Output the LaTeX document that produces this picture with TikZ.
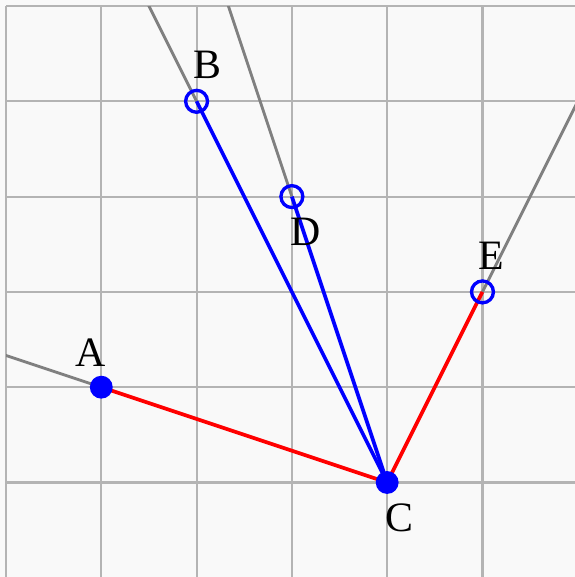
\documentclass[tikz,border=0pt]{standalone}
\usepackage{fontspec}
\setmainfont{Liberation Serif}
\usetikzlibrary{calc}
\definecolor{bgc}{HTML}{F9F9F9}
\definecolor{gridc}{HTML}{B4B4B4}
\definecolor{rayc}{HTML}{808080}
\definecolor{ptblue}{HTML}{0000FF}
\definecolor{segred}{HTML}{FF0000}
\begin{document}
\begin{tikzpicture}[x=1cm,y=1cm,
  gridline/.style={draw=gridc, line width=0.65pt},
  ray/.style={draw=rayc, line width=0.85pt},
  bluseg/.style={draw=ptblue, line width=1.1pt},
  redseg/.style={draw=segred, line width=1.1pt},
  openpt/.style={circle, draw=ptblue, line width=1pt, fill=none, minimum size=0.23cm, inner sep=0pt},
  fullpt/.style={circle, fill=ptblue, draw=none, minimum size=0.24cm, inner sep=0pt},
  lbl/.style={font=\fontsize{12.5}{13}\selectfont, inner sep=0pt}]
\useasboundingbox (-0.063,0.063) rectangle (5.971,-5.992);
\fill[bgc] (-0.063,0.063) rectangle (5.971,-5.992);
\draw[gridline] (0,-5.992) grid[step=1] (5.971,0);
\draw[gridline] (0,0) -- (5.971,0);
\draw[gridline] (0,0) -- (0,-5.992);
\coordinate (A) at (1,-4);
\coordinate (B) at (2,-1);
\coordinate (C) at (4,-5);
\coordinate (D) at (3,-2);
\coordinate (E) at (5,-3);
\begin{scope}
\clip (0,0) rectangle (5.971,-5.992);
\draw[ray] (A) -- ($(C)!2!(A)$);
\draw[ray] (B) -- ($(C)!2!(B)$);
\draw[ray] (D) -- ($(C)!2!(D)$);
\draw[ray] (E) -- ($(C)!2!(E)$);
\end{scope}
\draw[redseg] (C) -- (A);
\draw[bluseg] (C) -- (B);
\draw[bluseg] (C) -- (D);
\draw[redseg] (C) -- (E);
\node[fullpt] (nA) at (A) {};
\node[fullpt] (nC) at (C) {};
\node[openpt] (nB) at (B) {};
\node[openpt] (nD) at (D) {};
\node[openpt] (nE) at (E) {};
\node[lbl] (lA) at ($(A)+(-0.115,0.367)$) {A};
\node[lbl] (lB) at ($(B)+(0.115,0.378)$) {B};
\node[lbl] (lC) at ($(C)+(0.126,-0.367)$) {C};
\node[lbl] (lD) at ($(D)+(0.147,-0.367)$) {D};
\node[lbl] (lE) at ($(E)+(0.094,0.378)$) {E};
\end{tikzpicture}
\end{document}
